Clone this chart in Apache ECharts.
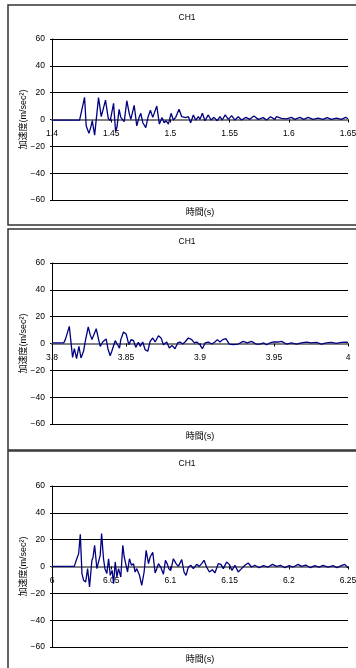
<!DOCTYPE html>
<html>
<head>
<meta charset="utf-8">
<script src="https://cdn.jsdelivr.net/npm/echarts@6/dist/echarts.min.js"></script>
<style>
  html, body { margin: 0; padding: 0; background: #fff; }
  #chart { width: 356px; height: 668px; }
</style>
</head>
<body>
<div id="chart"></div>
<script>
// Acceleration records, channel CH1, three time windows
const times1 = [1.400, 1.4233, 1.4275, 1.4289, 1.4301, 1.4312, 1.4329, 1.4340, 1.4360, 1.4393, 1.4416, 1.4452, 1.4475, 1.4492, 1.4520, 1.4537, 1.4548, 1.4567, 1.4581, 1.4610, 1.4632, 1.4652, 1.4666, 1.4694, 1.4716, 1.4733, 1.4750, 1.4767, 1.4792, 1.4812, 1.4831, 1.4851, 1.4885, 1.4907, 1.4930, 1.4947, 1.4963, 1.4983, 1.5006, 1.5025, 1.5045, 1.5073, 1.5096, 1.5112, 1.5129, 1.5152, 1.5171, 1.5194, 1.5213, 1.5236, 1.5250, 1.5270, 1.5292, 1.5320, 1.5343, 1.5368, 1.5396, 1.5419, 1.5438, 1.5463, 1.5489, 1.5517, 1.5545, 1.5573, 1.5601, 1.5638, 1.5671, 1.5705, 1.5742, 1.5784, 1.5812, 1.5846, 1.5882, 1.5896, 1.5938, 1.5980, 1.6022, 1.6051, 1.6093, 1.6126, 1.6163, 1.6205, 1.6247, 1.6289, 1.6323, 1.6360, 1.6402, 1.6444, 1.6480, 1.650];
const accel1 = [-0.4, -0.4, 16.5, -4.8, -3.4, -10.3, -5.3, -0.9, -11.6, 16.3, 2.1, 14.5, 0.9, -0.9, 12, -9, -6, 7.6, 1.6, -1.6, 14, 4.6, 0.1, 10.6, -4.8, 0.9, 4.6, -2.4, -6, 2.1, 7, 1.6, 10, -3.4, 1.4, -2.4, -0.9, -3.4, 4.6, -0.4, 1.6, 7.6, 2.1, 3.4, 1.4, 2.1, -2.4, 3.4, -0.4, 2.1, 0.1, 4.6, -0.9, 3.4, -0.4, 1.6, -0.9, 2.1, -0.4, 3.4, 0.1, 2.9, -0.4, 2.1, -0.4, 1.6, 0.1, 2.6, 0.1, 1.4, -0.4, 2.1, 0.1, 2.1, 0.9, 0.4, 1.6, 0.1, 1.6, 0.1, 1.6, 0.1, 1.1, 0.1, 1.4, 0.1, 1.1, 0.1, 1.6, 0.6];

const times2 = [3.800, 3.8079, 3.8090, 3.8101, 3.8117, 3.8128, 3.8139, 3.8151, 3.8166, 3.8182, 3.8196, 3.8213, 3.8227, 3.8245, 3.8258, 3.8270, 3.8299, 3.8315, 3.8326, 3.8342, 3.8366, 3.8378, 3.8393, 3.8404, 3.8427, 3.8443, 3.8456, 3.8465, 3.8483, 3.8501, 3.8519, 3.8535, 3.8551, 3.8566, 3.8584, 3.8596, 3.8613, 3.8629, 3.8647, 3.8663, 3.8681, 3.8697, 3.8719, 3.8737, 3.8753, 3.8775, 3.8793, 3.8811, 3.8831, 3.8849, 3.8865, 3.8883, 3.8899, 3.8921, 3.8944, 3.8962, 3.8978, 3.9000, 3.9016, 3.9034, 3.9056, 3.9079, 3.9101, 3.9117, 3.9135, 3.9153, 3.9175, 3.9198, 3.9225, 3.9258, 3.9292, 3.9319, 3.9348, 3.9378, 3.9404, 3.9431, 3.9449, 3.9472, 3.9494, 3.9528, 3.9551, 3.9584, 3.9618, 3.9652, 3.9685, 3.9719, 3.9753, 3.9787, 3.9820, 3.9854, 3.9888, 3.9921, 3.9955, 3.9989, 4.000];
const accel2 = [0.4, 0.4, 2.9, 4.1, 12.8, 12.8, -10.3, -3.9, -11.3, -2.1, -10.8, -5.8, 2.9, 12.3, 6.6, 2.9, 11, 2.9, -2.1, 1.1, 3.4, -3.9, -9.1, -5.8, 2.1, -0.9, -3.4, 2.9, 8.6, 7.1, -0.9, 2.9, 2.1, -2.9, 0.9, -2.1, 1.1, -4.6, -5.8, 1.6, 4.1, 1.1, 5.8, 4.1, -0.9, 1.1, -3.4, -1.4, -3.9, 0.4, 1.1, -0.4, 1.1, 4.1, 2.9, 0.4, 1.1, -0.9, -3.9, 0.4, 1.1, -0.4, 1.1, 2.9, 1.1, 2.9, 3.6, -0.4, -0.9, -0.4, 1.6, 0.4, 1.6, -0.4, -0.4, 0.4, -0.9, 0.4, 1.1, 1.1, 1.6, -0.4, 0.4, -0.4, 0.4, 1.1, 0.4, 0.9, -0.4, 0.4, 0.9, 0.1, 0.9, 1.1, 0.6];

const times3 = [6.000, 6.0188, 6.0205, 6.0225, 6.0239, 6.0253, 6.0267, 6.0284, 6.0301, 6.0317, 6.0337, 6.0346, 6.0360, 6.0379, 6.0396, 6.0407, 6.0419, 6.0435, 6.0447, 6.0463, 6.0478, 6.0492, 6.0508, 6.0520, 6.0534, 6.0548, 6.0562, 6.0581, 6.0598, 6.0610, 6.0626, 6.0638, 6.0654, 6.0671, 6.0688, 6.0702, 6.0716, 6.0739, 6.0758, 6.0778, 6.0795, 6.0815, 6.0829, 6.0851, 6.0871, 6.0885, 6.0899, 6.0918, 6.0941, 6.0958, 6.0975, 6.0986, 6.1003, 6.1025, 6.1048, 6.1067, 6.1096, 6.1115, 6.1132, 6.1152, 6.1174, 6.1194, 6.1222, 6.1244, 6.1264, 6.1284, 6.1306, 6.1329, 6.1354, 6.1376, 6.1404, 6.1427, 6.1447, 6.1475, 6.1497, 6.1520, 6.1545, 6.1573, 6.1601, 6.1629, 6.1657, 6.1685, 6.1713, 6.1750, 6.1784, 6.1826, 6.1862, 6.1896, 6.1930, 6.1966, 6.2003, 6.2037, 6.2079, 6.2107, 6.2143, 6.2183, 6.2219, 6.2256, 6.2289, 6.2331, 6.2374, 6.2407, 6.2444, 6.2472, 6.250];
const accel3 = [0.1, 0.1, 4.6, 9.6, 24, -5.3, -10.3, -11.6, -1.6, -15.3, 4.6, 6.6, 15.8, -1.6, 4.6, 8.3, 24.5, 5.8, -1.6, -5.3, 5.8, -6.6, -2.9, -12.8, 3.4, -7.8, -1.6, -7.8, 15.8, 7.1, 5.8, -4.1, 5.8, 0.9, 2.1, -4.1, -1.6, -6.6, -14, -4.1, 12, 2.1, 7.1, 10.6, -4.8, -1.6, 2.1, -0.4, -5.8, 4.6, 1.6, -1.6, -2.9, 5.8, 2.1, 0.1, 5.1, -4.1, -6.6, -0.4, 0.9, -1.6, 1.6, 0.1, 2.1, 4.6, -0.4, -4.1, -2.4, -4.8, 2.1, 1.6, -1.6, 3.4, 1.6, -2.9, 0.9, -4.1, -1.6, 0.9, 2.6, -0.4, 0.9, -0.9, 0.6, -0.4, 1.6, 0.1, 0.9, -0.9, 0.6, -0.4, 1.6, 0.1, 1.1, -0.9, 0.6, -0.4, 0.9, -0.4, 0.6, -0.9, 0.6, 1.6, -0.9];

// Axis ranges and tick labels
const xRanges = [[1.4, 1.65], [3.8, 4.0], [6.0, 6.25]];
const xTicks1 = [1.4, 1.45, 1.5, 1.55, 1.6, 1.65];
const xTicks2 = [3.8, 3.85, 3.9, 3.95, 4];
const xTicks3 = [6, 6.05, 6.1, 6.15, 6.2, 6.25];
const yTicks = [-60, -40, -20, 0, 20, 40, 60];

const panelTitle = 'CH1';
const xTitle = '時間(s)';
const yTitle = '加速度(m/sec²)';

const FONT = '"Liberation Sans", "Noto Sans CJK JP", sans-serif';
const panels = [
  { times: times1, accel: accel1, ticks: xTicks1, frameTop: 5, frameBottom: 225, plotTop: 39 },
  { times: times2, accel: accel2, ticks: xTicks2, frameTop: 229, frameBottom: 450, plotTop: 263 },
  { times: times3, accel: accel3, ticks: xTicks3, frameTop: 451, frameBottom: 690, plotTop: 486 }
];
const plotLeft = 52, plotRight = 348, plotHeight = 161;

const grid = [], xAxis = [], yAxis = [], series = [], title = [], graphic = [];

panels.forEach((p, i) => {
  grid.push({
    left: plotLeft, width: plotRight - plotLeft, top: p.plotTop, height: plotHeight,
    containLabel: false, outerBoundsMode: 'none'
  });

  title.push({
    text: panelTitle, padding: 0,
    left: 187, top: p.frameTop + 8.5, textAlign: 'center',
    textStyle: { fontFamily: FONT, fontSize: 8.5, fontWeight: 'normal', color: '#000' }
  });

  // the time axis runs along the zero line, halfway up the plot
  xAxis.push({
    type: 'value', gridIndex: i,
    min: xRanges[i][0], max: xRanges[i][1],
    offset: -plotHeight / 2,
    name: xTitle, nameLocation: 'middle', nameGap: 89, nameMoveOverlap: false,
    nameTextStyle: { fontFamily: FONT, fontSize: 9, color: '#000' },
    axisLine: { onZero: false, lineStyle: { color: '#808080', width: 2 } },
    axisTick: { show: true, customValues: p.ticks, length: 3, lineStyle: { color: '#000', width: 1 } },
    axisLabel: {
      customValues: p.ticks, margin: 10,
      fontFamily: FONT, fontSize: 8.5, color: '#000',
      formatter: v => String(Number(v.toFixed(2)))
    },
    splitLine: { show: false },
    z: 3
  });

  yAxis.push({
    type: 'value', gridIndex: i,
    min: yTicks[0], max: yTicks[yTicks.length - 1], interval: 20,
    name: yTitle, nameLocation: 'middle', nameRotate: 90, nameGap: 24, nameMoveOverlap: false,
    nameTextStyle: { fontFamily: FONT, fontSize: 9, color: '#000' },
    axisLine: { show: true, onZero: false, lineStyle: { color: '#000', width: 1 } },
    axisTick: { show: true, length: 2, lineStyle: { color: '#000' } },
    axisLabel: {
      margin: 7, fontFamily: FONT, fontSize: 8.5, color: '#000',
      formatter: v => String(v).replace('-', '−')
    },
    splitLine: { show: true, lineStyle: { color: '#000', width: 1 } }
  });

  series.push({
    type: 'line', xAxisIndex: i, yAxisIndex: i,
    data: p.times.map((t, k) => [t, p.accel[k]]),
    showSymbol: false, smooth: false,
    lineStyle: { color: '#000080', width: 1.3 },
    z: 5
  });

  graphic.push({
    type: 'rect',
    shape: { x: 8, y: p.frameTop, width: 370, height: p.frameBottom - p.frameTop },
    style: { fill: 'none', stroke: '#333', lineWidth: 1.5 },
    silent: true, z: 100
  });
});

const chart = echarts.init(document.getElementById('chart'), null, { renderer: 'canvas' });
chart.setOption({
  animation: false,
  backgroundColor: '#fff',
  title, grid, xAxis, yAxis, series, graphic
});
</script>
</body>
</html>
